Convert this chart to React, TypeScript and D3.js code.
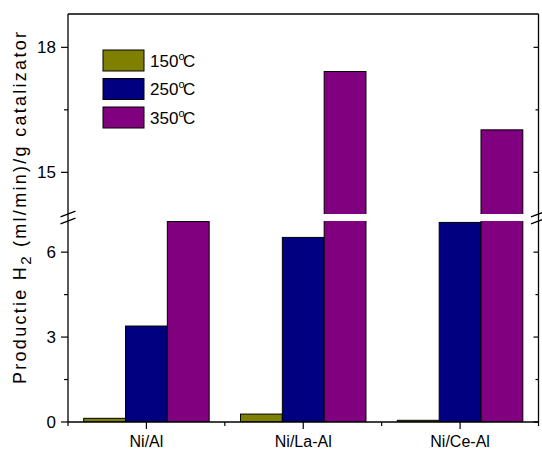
import React from "react";
import * as d3 from "d3";

// Catalysts and reaction temperatures
const categories = ["Ni/Al", "Ni/La-Al", "Ni/Ce-Al"];
const seriesNames = ["150", "250", "350"];
const seriesColors = ["#808000", "#000080", "#800080"];

// H2 production (ml/min)/g catalyst for each temperature
const values150 = [0.13, 0.28, 0.06];
const values250 = [3.39, 6.52, 7.05];
const values350 = [7.08, 17.42, 16.02];

// Axis ticks for the two segments of the broken y axis
const lowerTicks = [0, 3, 6];
const lowerMinor = [1.5, 4.5];
const upperTicks = [15, 18];
const upperMinor = [16.5];

const W = 542;
const H = 450;
const left = 68;
const right = 538.5;
const top = 14;
const bottom = 422;
const lowTop = 221;
const highBottom = 214;

const FONT = "Arial, 'Liberation Sans', sans-serif";

export default function App() {
  const series = [values150, values250, values350];

  const x = d3
    .scaleBand<string>()
    .domain(categories)
    .range([left, right])
    .paddingInner(0.2)
    .paddingOuter(0.1);
  const xs = d3
    .scaleBand<string>()
    .domain(seriesNames)
    .range([0, x.bandwidth()]);

  const yLow = d3.scaleLinear().domain([0, 7.1]).range([bottom, lowTop]);
  const yHigh = d3.scaleLinear().domain([14, 18.8]).range([highBottom, top]);

  const step = x.step();
  const boundaries = [0, 1, 2, 3].map((i) => left + i * step);

  const bars: JSX.Element[] = [];
  categories.forEach((cat, ci) => {
    series.forEach((vals, si) => {
      const v = vals[ci];
      const bx = (x(cat) ?? 0) + (xs(seriesNames[si]) ?? 0);
      const bw = xs.bandwidth();
      const [lo, hi] = yLow.domain();
      // part inside the lower segment
      const lowY = v > hi ? lowTop - 5 : yLow(v);
      bars.push(
        <rect
          key={`l-${ci}-${si}`}
          x={bx}
          y={lowY}
          width={bw}
          height={yLow(lo) - lowY}
          fill={seriesColors[si]}
          stroke="#000"
          strokeWidth={1}
          clipPath="url(#clipLow)"
        />
      );
      // part inside the upper segment
      const [ulo] = yHigh.domain();
      if (v > ulo) {
        const uy = yHigh(v);
        bars.push(
          <rect
            key={`h-${ci}-${si}`}
            x={bx}
            y={uy}
            width={bw}
            height={highBottom + 5 - uy}
            fill={seriesColors[si]}
            stroke="#000"
            strokeWidth={1}
            clipPath="url(#clipHigh)"
          />
        );
      }
    });
  });

  const breakMark = (cx: number, cy: number, key: string) => (
    <line
      key={key}
      x1={cx - 7.5}
      y1={cy + 2.8}
      x2={cx + 7.5}
      y2={cy - 2.8}
      stroke="#000"
      strokeWidth={1.3}
    />
  );

  const legendY = [50, 78.5, 107];

  return (
    <svg
      width={W}
      height={H}
      style={{ position: "absolute", left: 0, top: 0, background: "#fff" }}
      fontFamily={FONT}
    >
      <defs>
        <clipPath id="clipLow">
          <rect x={left} y={lowTop} width={right - left} height={bottom - lowTop} />
        </clipPath>
        <clipPath id="clipHigh">
          <rect x={left} y={top} width={right - left} height={highBottom - top} />
        </clipPath>
      </defs>

      {bars}

      {/* frame */}
      <line x1={left} y1={top} x2={right} y2={top} stroke="#000" strokeWidth={1.3} />
      <line x1={left} y1={top} x2={left} y2={bottom} stroke="#000" strokeWidth={1.3} />
      <line x1={right} y1={top} x2={right} y2={bottom} stroke="#000" strokeWidth={1.3} />
      <line x1={left} y1={bottom} x2={right} y2={bottom} stroke="#000" strokeWidth={1.3} />

      {/* y ticks, lower segment */}
      {lowerTicks.map((t) => (
        <g key={`lt-${t}`}>
          <line x1={left - 7} x2={left} y1={yLow(t)} y2={yLow(t)} stroke="#000" strokeWidth={1.2} />
          <line x1={right - 5} x2={right} y1={yLow(t)} y2={yLow(t)} stroke="#000" strokeWidth={1.2} />
          <text x={56} y={yLow(t)} dy="0.36em" textAnchor="end" fontSize={17}>
            {t}
          </text>
        </g>
      ))}
      {lowerMinor.map((t) => (
        <g key={`lm-${t}`}>
          <line x1={left - 4} x2={left} y1={yLow(t)} y2={yLow(t)} stroke="#000" strokeWidth={1.2} />
          <line x1={right - 3} x2={right} y1={yLow(t)} y2={yLow(t)} stroke="#000" strokeWidth={1.2} />
        </g>
      ))}
      {/* y ticks, upper segment */}
      {upperTicks.map((t) => (
        <g key={`ut-${t}`}>
          <line x1={left - 7} x2={left} y1={yHigh(t)} y2={yHigh(t)} stroke="#000" strokeWidth={1.2} />
          <line x1={right - 5} x2={right} y1={yHigh(t)} y2={yHigh(t)} stroke="#000" strokeWidth={1.2} />
          <text x={56} y={yHigh(t)} dy="0.36em" textAnchor="end" fontSize={17}>
            {t}
          </text>
        </g>
      ))}
      {upperMinor.map((t) => (
        <g key={`um-${t}`}>
          <line x1={left - 4} x2={left} y1={yHigh(t)} y2={yHigh(t)} stroke="#000" strokeWidth={1.2} />
          <line x1={right - 3} x2={right} y1={yHigh(t)} y2={yHigh(t)} stroke="#000" strokeWidth={1.2} />
        </g>
      ))}

      {/* axis break marks */}
      {breakMark(left, highBottom, "bl1")}
      {breakMark(left, lowTop, "bl2")}
      {breakMark(right, highBottom, "br1")}
      {breakMark(right, lowTop, "br2")}

      {/* x ticks and labels */}
      {categories.map((c) => {
        const cx = (x(c) ?? 0) + x.bandwidth() / 2;
        return (
          <g key={`x-${c}`}>
            <line x1={cx} x2={cx} y1={bottom} y2={bottom + 7} stroke="#000" strokeWidth={1.2} />
            <text x={cx} y={447} textAnchor="middle" fontSize={16}>
              {c}
            </text>
          </g>
        );
      })}
      {boundaries.map((b, i) => (
        <line key={`xb-${i}`} x1={b} x2={b} y1={bottom} y2={bottom + 4} stroke="#000" strokeWidth={1.2} />
      ))}

      {/* y axis title */}
      <text
        transform={`translate(26, 208) rotate(-90)`}
        textAnchor="middle"
        fontSize={18}
        textLength={352}
        lengthAdjust="spacing"
      >
        <tspan>Productie H</tspan>
        <tspan fontSize={15} dy={5}>2</tspan>
        <tspan dy={-5}> (ml/min)/g catalizator</tspan>
      </text>

      {/* legend */}
      {seriesNames.map((s, i) => (
        <g key={`lg-${s}`}>
          <rect
            x={103}
            y={legendY[i]}
            width={41}
            height={21}
            fill={seriesColors[i]}
            stroke="#000"
            strokeWidth={1}
          />
          <text x={150} y={legendY[i] + 16.7} fontSize={17}>
            <tspan>{s}</tspan>
            <tspan fontSize={11} dy={-7}>o</tspan>
            <tspan dy={7} dx={-1.5}>C</tspan>
          </text>
        </g>
      ))}
    </svg>
  );
}
